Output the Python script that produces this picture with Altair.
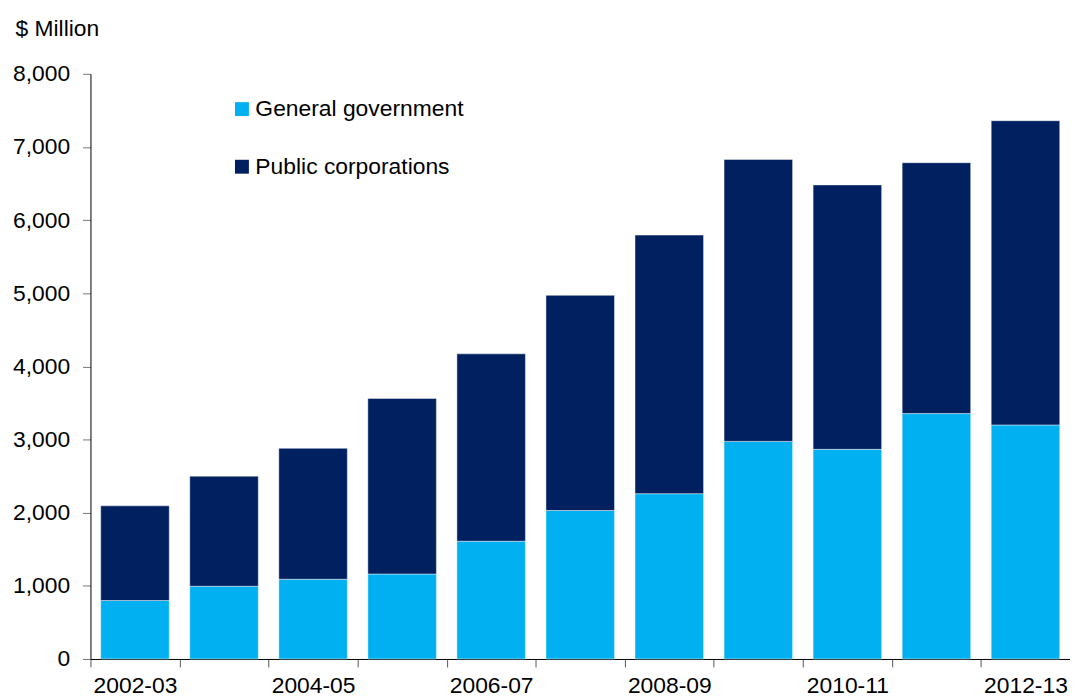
import altair as alt
import pandas as pd

years = ["2002-03", "2003-04", "2004-05", "2005-06", "2006-07", "2007-08",
         "2008-09", "2009-10", "2010-11", "2011-12", "2012-13"]
general_government = [800, 995, 1090, 1162, 1610, 2030, 2260, 2975, 2866, 3355, 3200]
totals = [2094, 2500, 2880, 3562, 4172, 4972, 5795, 6830, 6481, 6785, 7359]
public_corporations = [t - g for t, g in zip(totals, general_government)]
labelled_years = ["2002-03", "2004-05", "2006-07", "2008-09", "2010-11", "2012-13"]
series = ["General government", "Public corporations"]
colors = ["#00B0F0", "#002060"]

rows = []
for i, yr in enumerate(years):
    rows.append({"year": yr, "series": series[0], "value": general_government[i], "ord": 0})
    rows.append({"year": yr, "series": series[1], "value": public_corporations[i], "ord": 1})
df = pd.DataFrame(rows)

font = "Liberation Sans"
fs = 23
label_expr = "indexof(" + str(labelled_years) + ", datum.value) >= 0 ? datum.label : ''"

chart = alt.Chart(df).mark_bar(width=69, stroke="#ffffff", strokeWidth=1, strokeOpacity=0.45).encode(
    x=alt.X("year:N", sort=years,
            scale=alt.Scale(paddingInner=0, paddingOuter=0),
            axis=alt.Axis(title=None, labelAngle=0, labelFontSize=fs, labelFont=font,
                          labelColor="black", tickBand="extent", tickSize=8,
                          tickColor="#555555", domainColor="black", labelPadding=8,
                          labelExpr=label_expr)),
    y=alt.Y("value:Q", stack="zero",
            scale=alt.Scale(domain=[0, 8000], nice=False),
            axis=alt.Axis(values=list(range(0, 8001, 1000)), format=",.0f", grid=False,
                          labelFontSize=fs, labelFont=font, labelColor="black",
                          tickSize=8, tickColor="#777777", domainColor="black",
                          labelPadding=13,
                          title="$ Million", titleAngle=0, titleFont=font,
                          titleFontSize=fs, titleFontWeight="normal", titleColor="black",
                          titleX=-76, titleY=-46, titleAlign="left",
                          titleBaseline="middle")),
    color=alt.Color("series:N", sort=series,
                    scale=alt.Scale(domain=series, range=colors),
                    legend=alt.Legend(title=None, orient="none", legendX=141, legendY=24,
                                      symbolType="square", symbolSize=196,
                                      symbolStrokeWidth=0, labelFontSize=fs,
                                      labelFont=font, labelColor="black", labelLimit=400,
                                      rowPadding=34, labelOffset=2)),
    order=alt.Order("ord:Q"),
).properties(
    width=986, height=589,
    autosize=alt.AutoSizeParams(type="none"),
    padding={"left": 83, "top": 64, "right": 0, "bottom": 37},
).configure_view(stroke=None)

chart.save("out.html", embed_options={"renderer": "svg", "actions": False})
